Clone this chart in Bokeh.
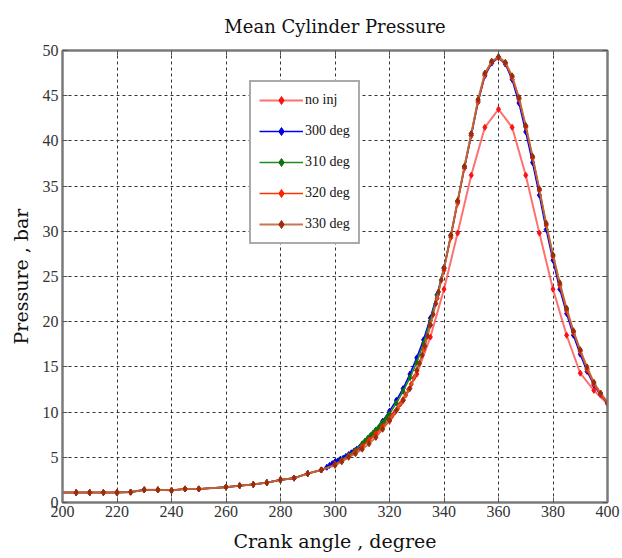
from bokeh.plotting import figure
from bokeh.models import Range1d, LinearAxis, FixedTicker
from bokeh.embed import file_html
from bokeh.resources import INLINE

# ---------------- data ----------------
x_ticks = [200, 220, 240, 260, 280, 300, 320, 340, 360, 380, 400]
y_ticks = [0, 5, 10, 15, 20, 25, 30, 35, 40, 45, 50]

# common compression part (all cases identical before injection)
base_x = [200, 205, 210, 215, 220, 225, 230, 235, 240, 245, 250, 260, 265, 270, 275, 280, 285, 290, 295]
base_y = [1.1, 1.1, 1.1, 1.1, 1.1, 1.15, 1.4, 1.4, 1.35, 1.5, 1.5, 1.7, 1.85, 2.0, 2.2, 2.5, 2.7, 3.2, 3.6]

noinj_x = [300, 305, 310, 315, 320, 325, 330, 335, 340, 345, 350, 355, 360,
           365, 370, 375, 380, 385, 390, 395, 400]
noinj_y = [4.2, 5.1, 6.2, 7.5, 9.0, 11.3, 14.2, 18.3, 23.6, 29.8, 36.2, 41.5, 43.5,
           41.5, 36.2, 29.8, 23.6, 18.5, 14.3, 12.4, 10.9]

inj300_x = [297, 298, 299, 300, 301, 302, 303, 304, 305, 306, 307, 308, 309, 310,
            312.5, 315, 317.5, 320, 322.5, 325, 327.5, 330, 332.5, 335, 337.5, 340,
            342.5, 345, 347.5, 350, 352.5, 355, 357.5, 360, 362.5, 365, 367.5, 370,
            372.5, 375, 377.5, 380, 382.5, 385, 387.5, 390, 392.5, 395, 397.5, 400]
inj300_y = [3.9, 4.1, 4.3, 4.5, 4.6, 4.8, 4.9, 5.1, 5.3, 5.5, 5.7, 5.9, 6.1, 6.4,
            7.1, 8.0, 9.0, 10.1, 11.3, 12.6, 14.2, 16.0, 18.0, 20.4, 23.0, 26.0,
            29.5, 33.3, 37.0, 40.6, 44.3, 47.2, 48.6, 49.2, 48.5, 46.8, 44.2, 41.0,
            37.6, 34.0, 30.2, 26.8, 23.6, 20.9, 18.5, 16.4, 14.5, 13.0, 11.9, 11.0]

inj310_x = [300, 302.5, 305, 307.5, 310, 311, 312, 313, 314, 315, 316, 317, 318, 319,
            320, 322.5, 325, 327.5, 330, 332.5, 335, 337.5, 340, 342.5, 345, 347.5,
            350, 352.5, 355, 357.5, 360, 362.5, 365, 367.5, 370, 372.5, 375, 377.5,
            380, 382.5, 385, 387.5, 390, 392.5, 395, 397.5, 400]
inj310_y = [4.2, 4.7, 5.2, 5.8, 6.5, 6.8, 7.1, 7.4, 7.7, 8.0, 8.3, 8.7, 9.0, 9.4,
            9.8, 11.0, 12.3, 13.8, 15.5, 17.6, 20.1, 22.9, 25.9, 29.5, 33.3, 37.2,
            40.8, 44.5, 47.4, 48.8, 49.3, 48.6, 47.1, 44.7, 41.6, 38.2, 34.6, 30.7,
            27.3, 24.1, 21.3, 18.9, 16.8, 14.8, 13.2, 12.0, 11.1]

inj320_x = [300, 302.5, 305, 307.5, 310, 312.5, 315, 317.5, 320, 321, 322, 323, 324,
            325, 326, 327, 328, 329, 330, 332.5, 335, 337.5, 340, 342.5, 345, 347.5,
            350, 352.5, 355, 357.5, 360, 362.5, 365, 367.5, 370, 372.5, 375, 377.5,
            380, 382.5, 385, 387.5, 390, 392.5, 395, 397.5, 400]
inj320_y = [4.2, 4.6, 5.1, 5.6, 6.2, 6.9, 7.6, 8.4, 9.2, 9.6, 10.0, 10.4, 10.9,
            11.4, 11.9, 12.5, 13.1, 13.8, 14.6, 16.9, 19.7, 22.6, 25.7, 29.3, 33.1, 37.0,
            40.6, 44.3, 47.3, 48.7, 49.2, 48.6, 47.0, 44.6, 41.5, 38.1, 34.5, 30.7,
            27.2, 24.0, 21.2, 18.8, 16.7, 14.7, 13.1, 11.9, 11.0]

inj330_x = [300, 302.5, 305, 307.5, 310, 312.5, 315, 317.5, 320, 322.5, 325, 327.5,
            330, 331, 332, 333, 334, 335, 336, 337, 338, 339, 340, 342.5, 345, 347.5,
            350, 352.5, 355, 357.5, 360, 362.5, 365, 367.5, 370, 372.5, 375, 377.5,
            380, 382.5, 385, 387.5, 390, 392.5, 395, 397.5, 400]
inj330_y = [4.1, 4.5, 5.0, 5.4, 5.9, 6.5, 7.2, 8.1, 9.1, 10.2, 11.3, 12.6,
            14.6, 15.4, 16.3, 17.3, 18.4, 19.6, 20.8, 22.0, 23.3, 24.6, 25.9, 29.6, 33.4, 37.2,
            40.8, 44.6, 47.5, 48.8, 49.3, 48.7, 47.2, 44.8, 41.7, 38.3, 34.7, 30.9,
            27.4, 24.3, 21.5, 19.0, 16.9, 15.0, 13.3, 12.1, 11.1]

series_labels = ["no inj", "300 deg", "310 deg", "320 deg", "330 deg"]
series_x = [noinj_x, inj300_x, inj310_x, inj320_x, inj330_x]
series_y = [noinj_y, inj300_y, inj310_y, inj320_y, inj330_y]

# ---------------- styling ----------------
line_colors = ["#ff6060", "#0000ff", "#1e8c1e", "#ff3300", "#c0673e"]
marker_colors = ["#ff1010", "#0000e0", "#107010", "#ff2000", "#9a2e0a"]
line_widths = [2.0, 1.6, 1.6, 1.4, 1.8]
line_alphas = [0.9, 1.0, 1.0, 1.0, 0.9]

SERIF = "DejaVu Serif"
LSERIF = "Liberation Serif"
NARROW = "Liberation Sans Narrow"

p = figure(width=622, height=558, x_range=Range1d(200, 400), y_range=Range1d(0, 50),
           output_backend="svg", toolbar_location=None,
           min_border_left=62, min_border_right=15, min_border_top=48, min_border_bottom=56,
           background_fill_color="white", border_fill_color="white")

p.title.text = "Mean Cylinder Pressure"
p.title.align = "center"
p.title.text_font = SERIF
p.title.text_font_style = "normal"
p.title.text_font_size = "18px"
p.title.text_color = "#111111"
p.title.offset = -10
p.title.standoff = 27

for i, lab in enumerate(series_labels):
    xs = base_x + series_x[i]
    ys = base_y + series_y[i]
    p.line(xs, ys, line_color=line_colors[i], line_width=line_widths[i],
           line_alpha=line_alphas[i], legend_label=lab)
    p.scatter(xs[1:], ys[1:], marker="diamond", size=6, fill_color=marker_colors[i],
              line_color=marker_colors[i], legend_label=lab)

xt = FixedTicker(ticks=x_ticks)
yt = FixedTicker(ticks=y_ticks)

xb = p.xaxis[0]
yl = p.yaxis[0]
xb.ticker = xt
yl.ticker = yt

top = LinearAxis(ticker=xt, major_label_overrides={t: "" for t in x_ticks},
                 major_label_standoff=0)
right = LinearAxis(ticker=yt, major_label_overrides={t: "" for t in y_ticks},
                   major_label_standoff=0)
p.add_layout(top, "above")
p.add_layout(right, "right")

for ax in [xb, yl, top, right]:
    ax.axis_line_color = "#7a7a7a"
    ax.axis_line_width = 2
    ax.major_tick_in = 5
    ax.major_tick_out = 0
    ax.major_tick_line_color = "#555555"
    ax.major_tick_line_width = 1
    ax.minor_tick_line_color = None

for ax in [xb, yl]:
    ax.major_label_text_font = NARROW
    ax.major_label_text_font_size = "16px"
    ax.major_label_text_color = "#333333"
    ax.axis_label_text_font = SERIF
    ax.axis_label_text_font_style = "normal"
    ax.axis_label_text_font_size = "19px"
    ax.axis_label_text_color = "#111111"

xb.axis_label = "Crank angle , degree"
yl.axis_label = "Pressure , bar"
xb.major_label_standoff = 3
yl.major_label_standoff = 4
xb.axis_label_standoff = 10
yl.axis_label_standoff = 8

p.outline_line_color = "#7a7a7a"
p.outline_line_width = 2

p.xgrid.ticker = xt
p.ygrid.ticker = yt
for g in [p.xgrid[0], p.ygrid[0]]:
    g.grid_line_color = "#333333"
    g.grid_line_dash = "3 3"
    g.grid_line_width = 1

leg = p.legend[0]
leg.location = (187, 258)
leg.border_line_color = "#555555"
leg.border_line_width = 2
leg.background_fill_color = "white"
leg.background_fill_alpha = 1
leg.label_text_font = LSERIF
leg.label_text_font_size = "14px"
leg.label_text_color = "#111111"
leg.glyph_width = 44
leg.glyph_height = 20
leg.label_height = 20
leg.label_standoff = 2
leg.spacing = 11
leg.padding = 8
leg.margin = 0

open("out.html", "w").write(file_html(p, INLINE))
